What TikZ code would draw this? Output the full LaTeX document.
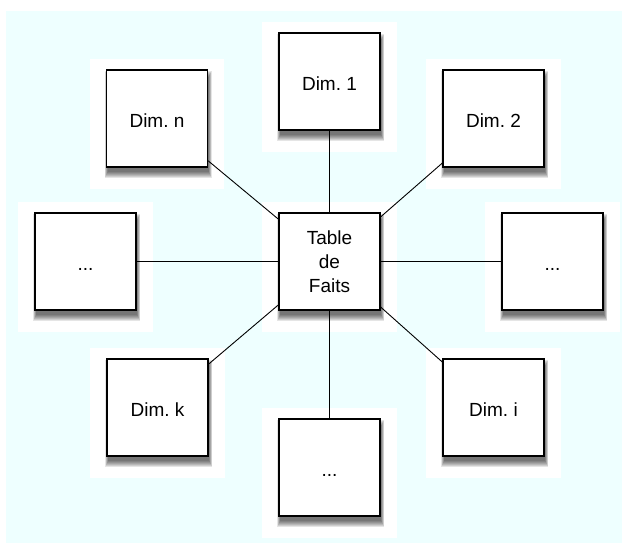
\documentclass[tikz,border=0pt]{standalone}
\usepackage{fontspec}
\setmainfont{Liberation Sans}
\frenchspacing
\usetikzlibrary{backgrounds}
\definecolor{paleCyan}{RGB}{238,255,255}
\begin{document}
\begin{tikzpicture}[x=1pt, y=-1pt,
  dimbox/.style={draw, fill=white, line width=1.2pt, minimum width=101pt, minimum height=97pt,
    inner sep=0pt, align=center, font=\fontsize{19}{24}\selectfont,
    text height=18pt, text depth=0pt},
  factbox/.style={dimbox, text height=, text depth=},
  link/.style={line width=0.9pt}]
\useasboundingbox (0,0) rectangle (622,543);

\node[factbox] (c) at (329.5,261.5) {Table\\de\\Faits};
\node[dimbox] (d1) at (329.5,81.5) {Dim. 1};
\node[dimbox] (dn) at (157,118.5) {Dim. n};
\node[dimbox] (d2) at (493.5,118.5) {Dim. 2};
\node[dimbox] (l) at (85.5,261.5) {...};
\node[dimbox] (r) at (552.5,261.5) {...};
\node[dimbox] (dk) at (157.5,407.5) {Dim. k};
\node[dimbox] (di) at (493.5,407.5) {Dim. i};
\node[dimbox] (b) at (329.5,467.5) {...};

\begin{scope}[on background layer]
\fill[paleCyan] (6,11) rectangle (622,543);
\foreach \n in {c,d1,dn,d2,l,r,dk,di,b}
  \fill[white] ([xshift=-16pt,yshift=10pt]\n.north west) rectangle ([xshift=16pt,yshift=-21pt]\n.south east);
\foreach \n in {d1,dn,d2,l,r,dk,di,b}
  \draw[link] (c) -- (\n);
% soft shadows
\foreach \n in {c,d1,dn,d2,l,r,dk,di,b}
  \foreach \k in {0,...,6}
    \fill[black, opacity=0.1] ([xshift=2pt-0.5*\k pt,yshift=-8pt+\k pt]\n.north west) rectangle ([xshift=0.5pt+0.5*\k pt,yshift=-4pt-\k pt]\n.south east);
\end{scope}
\end{tikzpicture}
\end{document}
